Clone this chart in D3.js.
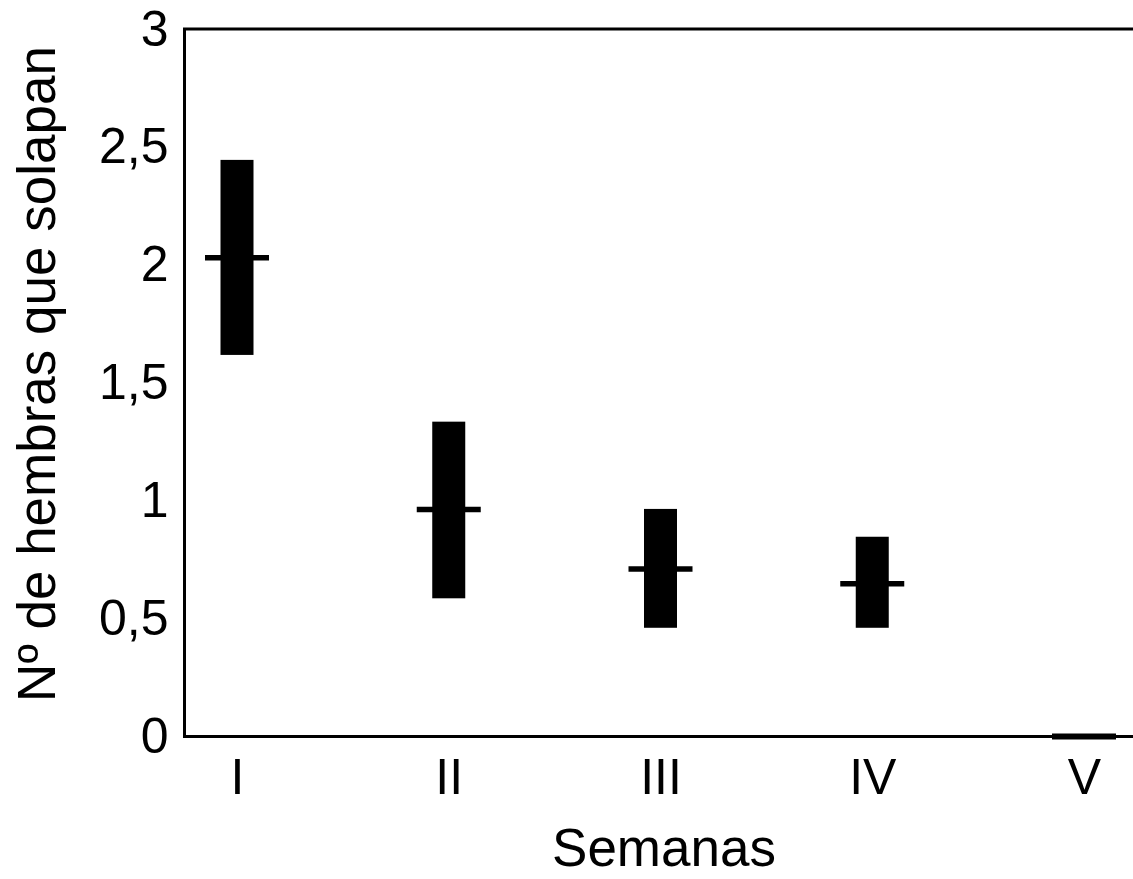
<!DOCTYPE html>
<html>
<head>
<meta charset="utf-8">
<script src="https://cdn.jsdelivr.net/npm/d3@7"></script>
<style>
  body { margin: 0; background: #fff; }
  svg { display: block; font-family: "Liberation Sans", Arial, Helvetica, sans-serif; }
</style>
</head>
<body>
<svg width="1133" height="879"></svg>
<script>
// datos
const semanas = ["I", "II", "III", "IV", "V"];
const maximos = [2.445, 1.335, 0.965, 0.847, 0];
const minimos = [1.618, 0.586, 0.461, 0.461, 0];
const medianas = [2.03, 0.963, 0.71, 0.648, 0];
const ticksY = [0, 0.5, 1, 1.5, 2, 2.5, 3];
const etiquetasY = ["0", "0,5", "1", "1,5", "2", "2,5", "3"];

const svg = d3.select("svg");

const area = {
    left: 184.5,
    right: 1133,
    top: 29,
    bottom: 736.5
};

// escalas
const scX = d3.scalePoint()
    .domain(semanas)
    .range([237, 1084]);

const scY = d3.scaleLinear()
    .domain([0, 3])
    .range([area.bottom, area.top]);

const datos = semanas.map((s, i) => ({
    semana: s, max: maximos[i], min: minimos[i], med: medianas[i]
}));

// eje Y: solo etiquetas
const ejeY = svg.append("g")
    .attr("transform", `translate(${area.left}, 0)`)
    .call(d3.axisLeft(scY)
        .tickValues(ticksY)
        .tickFormat((d, i) => etiquetasY[i])
        .tickSize(0)
        .tickPadding(16));
ejeY.select(".domain").remove();
ejeY.selectAll("text")
    .style("font-size", "50px")
    .style("font-family", "inherit")
    .attr("fill", "#000");

// eje X: solo etiquetas
const ejeX = svg.append("g")
    .attr("transform", `translate(0, ${area.bottom})`)
    .call(d3.axisBottom(scX).tickSize(0).tickPadding(22));
ejeX.select(".domain").remove();
ejeX.selectAll("text")
    .style("font-size", "50px")
    .style("font-family", "inherit")
    .attr("fill", "#000");

// líneas del marco: izquierda, arriba, abajo
svg.append("path")
    .attr("d", `M${area.right},${area.top}H${area.left}V${area.bottom}H${area.right}`)
    .attr("fill", "none")
    .attr("stroke", "#000")
    .attr("stroke-width", 3);

// barras (rango mín-máx)
svg.selectAll(".barra")
    .data(datos)
    .enter()
    .append("rect")
    .attr("class", "barra")
    .attr("x", d => scX(d.semana) - 16.5)
    .attr("y", d => scY(d.max))
    .attr("width", 33)
    .attr("height", d => scY(d.min) - scY(d.max))
    .attr("fill", "#000");

// medianas
svg.selectAll(".mediana")
    .data(datos)
    .enter()
    .append("line")
    .attr("class", "mediana")
    .attr("x1", d => scX(d.semana) - 32)
    .attr("x2", d => scX(d.semana) + 32)
    .attr("y1", d => scY(d.med))
    .attr("y2", d => scY(d.med))
    .attr("stroke", "#000")
    .attr("stroke-width", d => d.med === 0 ? 6 : 5.5);

// títulos de los ejes
svg.append("text")
    .attr("x", 664)
    .attr("y", 866)
    .attr("text-anchor", "middle")
    .style("font-size", "53px")
    .text("Semanas");

svg.append("text")
    .attr("transform", "translate(55, 374) rotate(-90)")
    .attr("text-anchor", "middle")
    .style("font-size", "53px")
    .text("Nº de hembras que solapan");
</script>
</body>
</html>
